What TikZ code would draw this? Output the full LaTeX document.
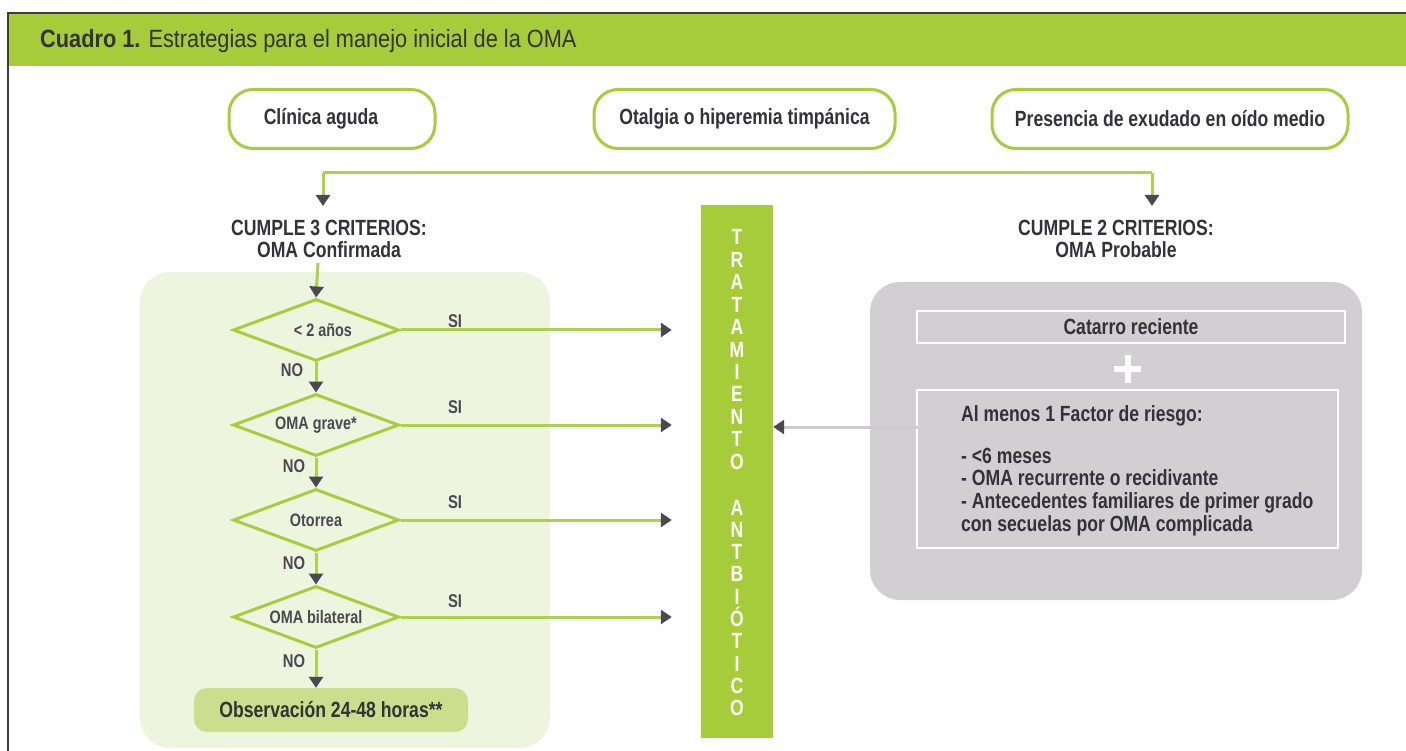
\documentclass[tikz,border=0pt]{standalone}
\usepackage{fontspec}
\setmainfont{Liberation Sans}[FakeStretch=0.8]
\newfontfamily\hdrfont{Liberation Sans}[FakeStretch=0.87]
\usetikzlibrary{arrows.meta,shapes.geometric}
\definecolor{hdr}{HTML}{A6CC3A}
\definecolor{boxg}{HTML}{A6CD3B}
\definecolor{lineg}{HTML}{ACD14A}
\definecolor{txt}{HTML}{333238}
\definecolor{dtxt}{HTML}{4A4852}
\definecolor{arrc}{HTML}{4A4852}
\definecolor{lpanel}{HTML}{EDF5DF}
\definecolor{obsfill}{HTML}{C9DF8D}
\definecolor{rpanel}{HTML}{D1CFD2}
\definecolor{gline}{HTML}{CDCBCE}
\definecolor{framec}{HTML}{3C3A48}
\newcommand\fsz[2]{\fontsize{#1}{#2}\selectfont}
\begin{document}
\begin{tikzpicture}[x=1pt,y=-1pt,
  topbox/.style={draw=boxg, line width=3pt, fill=white, rounded corners=24pt,
    minimum height=59pt, font=\fsz{22}{24}\bfseries, text=txt},
  crit/.style={align=center, font=\fsz{22}{22}\bfseries, text=txt, inner sep=0pt},
  diam/.style={shape=diamond, draw=boxg, line width=3pt, minimum width=166pt,
    minimum height=62pt, inner sep=0pt},
  dtext/.style={font=\fsz{18}{20}\bfseries, text=dtxt, inner sep=0pt},
  yn/.style={font=\fsz{18.5}{20}\bfseries, text=dtxt, inner sep=0pt},
  garrow/.style={draw=lineg, line width=3pt,
    -{Triangle[width=14pt,length=11pt,color=arrc]}},
  gplain/.style={draw=lineg, line width=3pt},
  grayarrow/.style={draw=gline, line width=3pt,
    -{Triangle[width=14pt,length=11pt,color=arrc]}},
  barletter/.style={font=\fsz{22}{22}\bfseries, text=white, inner sep=0pt, anchor=base},
  wbox/.style={draw=white, line width=2.5pt, inner sep=0pt},
]
\useasboundingbox (0,0) rectangle (1406,751);
% header
\fill[hdr] (8,13) rectangle (1406,66);
\draw[framec, line width=2pt] (8,751) -- (8,13) -- (1406,13);
\node[anchor=base west, inner sep=0pt, text=txt, font=\hdrfont\fsz{25}{27}] (title) at (40,48)
  {{\bfseries Cuadro 1.} Estrategias para el manejo inicial de la OMA};

% top boxes
\node[topbox, minimum width=206pt] (clin) at (332,119) {Clínica aguda\hspace*{22pt}};
\node[topbox, minimum width=301pt] (otal) at (744.5,119) {Otalgia o hiperemia timpánica};
\node[topbox, minimum width=356pt] (pres) at (1170,119) {Presencia de exudado en oído medio};

% criteria labels
\node[crit] (crit3) at (329,239) {CUMPLE 3 CRITERIOS:\\OMA Confirmada};
\node[crit] (crit2) at (1116,239) {CUMPLE 2 CRITERIOS:\\OMA Probable};

% bus
\coordinate (bL) at (323,173);
\coordinate (bR) at (1152,173);
\draw[gplain] (bL) -- (bR);
\draw[garrow] (bL) -- (bL |- 0,206);
\draw[garrow] (bR) -- (bR |- 0,206);

% left panel
\node[fill=lpanel, rounded corners=30pt, minimum width=410pt, minimum height=476pt, inner sep=0pt] (lp) at (345,510) {};

% diamonds
\node[diam, label={[dtext]center:{\hspace*{14pt}< 2 años}}] (d1) at (316,330) {};
\node[diam, label={[dtext]center:OMA grave*}] (d2) at (316,425) {};
\node[diam, label={[dtext]center:Otorrea}] (d3) at (316,520) {};
\node[diam, label={[dtext]center:OMA bilateral}] (d4) at (316,617) {};

\node[fill=obsfill, rounded corners=13pt, minimum width=274pt, minimum height=44pt,
  font=\fsz{22}{24}\bfseries, text=txt, inner sep=0pt] (obs) at (331,710) {Observación 24-48 horas**};

% bar
\node[fill=hdr, minimum width=72pt, minimum height=533pt, inner sep=0pt] (bar) at (737,471.5) {};
\foreach \c [count=\i] in {T,R,A,T,A,M,I,E,N,T,O}
  \node[barletter] (t\i) at (737,{237+8+(\i-1)*22.4}) {\c};
\foreach \c [count=\i] in {A,N,T,B,I,Ó,T,I,C,O}
  \node[barletter] (a\i) at (737,{507+8+(\i-1)*22.33}) {\c};

% connectors left
\coordinate (c3b) at (318,263);
\draw[garrow] (c3b) -- (d1.north);
\draw[garrow] (d1.south) -- (d2.north);
\draw[garrow] (d2.south) -- (d3.north);
\draw[garrow] (d3.south) -- (d4.north);
\draw[garrow] (d4.south) -- (obs.north -| d4.south);
\foreach \d in {d1,d2,d3,d4} {
  \draw[garrow] (\d.east) -- ([xshift=-29pt]\d.east -| bar.west);
}
\node[yn] (si1) at (455,321) {SI};
\node[yn] (si2) at (455,407) {SI};
\node[yn] (si3) at (455,502) {SI};
\node[yn] (si4) at (455,601) {SI};
\node[yn] (no1) at (292,370) {NO};
\node[yn] (no2) at (294,466) {NO};
\node[yn] (no3) at (294,563) {NO};
\node[yn] (no4) at (294,661) {NO};

% right panel
\node[fill=rpanel, rounded corners=30pt, minimum width=492pt, minimum height=318pt, inner sep=0pt] (rp) at (1116,441) {};
\node[wbox, minimum width=428pt, minimum height=32pt, font=\fsz{22}{24}\bfseries, text=txt] (cat) at (1131,327) {Catarro reciente};
\draw[white, line width=6pt] (1114,369) -- (1141,369);
\draw[white, line width=6pt] (1127.5,355) -- (1127.5,383);
\node[wbox, minimum width=421pt, minimum height=158pt] (fac) at (1127.5,469) {};
\node[anchor=north west, align=left, inner sep=0pt, font=\fsz{22}{22.7}\bfseries, text=txt] (factxt) at (961,405)
  {Al menos 1 Factor de riesgo:\\[19.3pt]
   - <6 meses\\
   - OMA recurrente o recidivante\\
   - Antecedentes familiares de primer grado\\
   con secuelas por OMA complicada};
\coordinate (ga) at (918,427);
\draw[grayarrow] (ga) -- (ga -| bar.east);
\end{tikzpicture}
\end{document}
